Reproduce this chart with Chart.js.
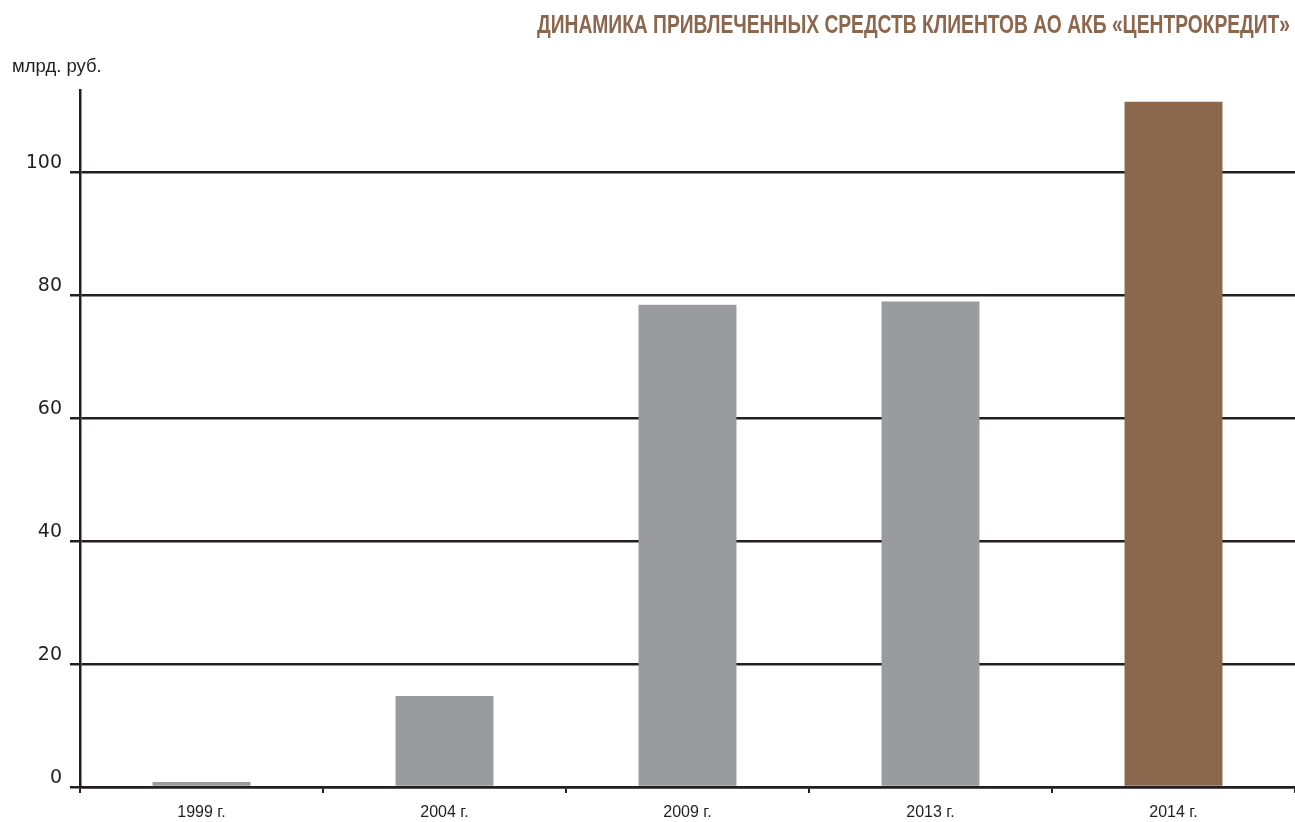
<!DOCTYPE html>
<html>
<head>
<meta charset="utf-8">
<script src="https://cdn.jsdelivr.net/npm/chart.js@4/dist/chart.umd.min.js"></script>
<style>
  html, body { margin: 0; padding: 0; background: #fff; }
  #grafico { display: block; }
</style>
</head>
<body>
<canvas id="grafico" width="1295" height="822"></canvas>
<script>
// Dados do gráfico
const anos = ['1999 г.', '2004 г.', '2009 г.', '2013 г.', '2014 г.'];
const valores = [0.8, 14.8, 78.4, 78.9, 111.4];
const ticksY = [0, 20, 40, 60, 80, 100];
const titulo = 'ДИНАМИКА ПРИВЛЕЧЕННЫХ СРЕДСТВ КЛИЕНТОВ АО АКБ «ЦЕНТРОКРЕДИТ»';
const unidade = 'млрд. руб.';

const corLinha = '#231f20';
const corCinza = '#9a9b9f';
const corMarrom = '#8b674e';

// Título condensado (à direita) e unidade (à esquerda)
const pluginTextos = {
    id: 'textos',
    afterDraw(chart) {
        const ctx = chart.ctx;
        ctx.save();
        // título: fonte negrito comprimida na horizontal
        ctx.font = 'bold 25px "Liberation Sans", Arial, sans-serif';
        ctx.fillStyle = corMarrom;
        ctx.textBaseline = 'alphabetic';
        ctx.textAlign = 'right';
        const larguraAlvo = 753;
        const largura = ctx.measureText(titulo).width;
        ctx.translate(1290, 33);
        ctx.scale(larguraAlvo / largura, 1);
        ctx.fillText(titulo, 0, 0);
        ctx.restore();

        ctx.save();
        ctx.font = '18.5px "Liberation Sans", Arial, sans-serif';
        ctx.fillStyle = corLinha;
        ctx.textBaseline = 'middle';
        ctx.textAlign = 'left';
        ctx.fillText(unidade, 12, 67);
        ctx.restore();
    }
};

const ctx = document.getElementById('grafico').getContext('2d');

new Chart(ctx, {
    type: 'bar',
    data: {
        labels: anos,
        datasets: [{
            data: valores,
            backgroundColor: valores.map((_, i) => i === valores.length - 1 ? corMarrom : corCinza),
            categoryPercentage: 1,
            barPercentage: 0.403
        }]
    },
    options: {
        responsive: false,
        animation: false,
        devicePixelRatio: 1,
        layout: { padding: { top: 90, left: 0, right: 0, bottom: 0 } },
        plugins: {
            legend: { display: false },
            tooltip: { enabled: false },
            title: { display: false }
        },
        scales: {
            x: {
                grid: {
                    offset: true,
                    drawOnChartArea: false,
                    color: corLinha,
                    lineWidth: 2,
                    tickLength: 6
                },
                border: { display: true, color: corLinha, width: 2.5 },
                ticks: {
                    color: corLinha,
                    padding: 10,
                    font: { family: '"Liberation Sans", Arial, sans-serif', size: 16 }
                },
                afterFit: axis => { axis.height = 35; }
            },
            y: {
                min: 0,
                max: 113.3,
                afterBuildTicks: axis => {
                    axis.ticks = ticksY.map(v => ({ value: v }));
                },
                grid: {
                    color: corLinha,
                    lineWidth: 2.5,
                    tickLength: 10
                },
                border: { display: true, color: corLinha, width: 2.5 },
                ticks: {
                    color: corLinha,
                    padding: 8,
                    labelOffset: -9,
                    font: { family: '"DejaVu Sans", Verdana, sans-serif', size: 19 }
                },
                afterFit: axis => { axis.width = 80; }
            }
        }
    },
    plugins: [pluginTextos]
});
</script>
</body>
</html>
